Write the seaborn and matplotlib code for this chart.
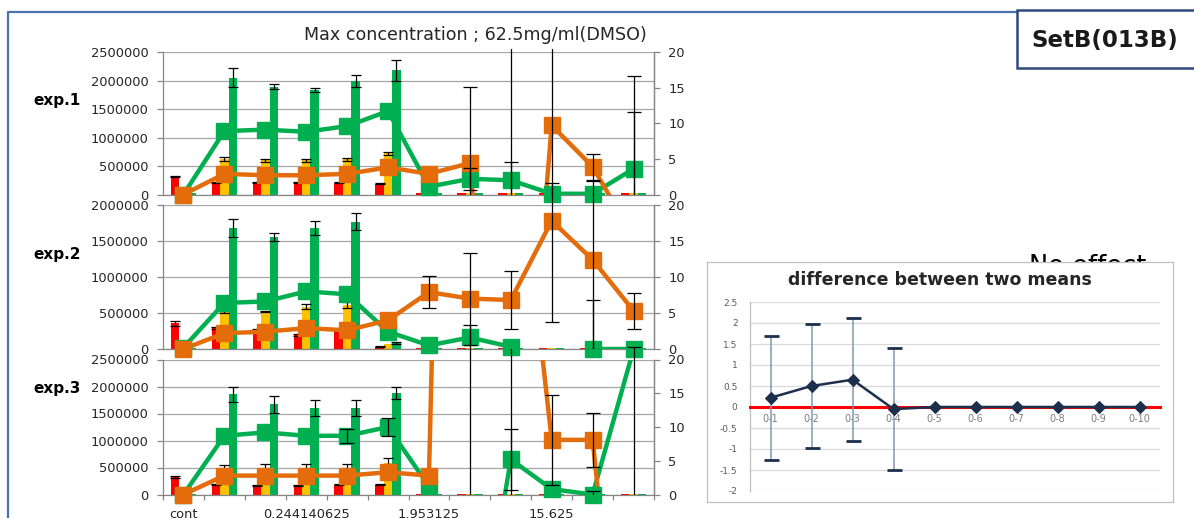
import numpy as np
import pandas as pd
import matplotlib
matplotlib.use("Agg")
import matplotlib.pyplot as plt
import seaborn as sns
from matplotlib.patches import Rectangle
from matplotlib.lines import Line2D
from matplotlib.ticker import FuncFormatter
from matplotlib.transforms import Bbox, TransformedBbox

nan = np.nan

# two-fold dilution series (mg/ml) from the 62.5 mg/ml maximum
conc = ["cont", "0.06103515625", "0.1220703125", "0.244140625", "0.48828125",
        "0.9765625", "1.953125", "3.90625", "7.8125", "15.625", "31.25", "62.5"]
tick_idx = [0, 3, 6, 9]
tick_text = ["cont", "0.244140625", "1.953125", "15.625"]

# ---- exp.1 ----
exp1_red = [320000, 210000, 205000, 205000, 205000, 185000, 20000, 20000, 20000, 20000, 20000, 20000]
exp1_red_err = [8000, 8000, 8000, 8000, 8000, 8000, nan, nan, nan, nan, nan, nan]
exp1_yellow = [20000, 630000, 600000, 600000, 620000, 720000, 20000, 20000, 20000, 20000, 20000, 20000]
exp1_yellow_err = [nan, 35000, 30000, 25000, 25000, 30000, nan, nan, nan, nan, nan, nan]
exp1_green = [20000, 2050000, 1890000, 1830000, 1990000, 2180000, 20000, 20000, 20000, 20000, 20000, 20000]
exp1_green_err = [nan, 170000, 45000, 30000, 110000, 180000, nan, nan, nan, nan, nan, nan]
exp1_gline = [0.0, 8.9, 9.1, 8.8, 9.6, 11.7, 1.1, 2.2, 2.0, 0.1, 0.1, 3.6]
exp1_gline_err = [nan, nan, nan, nan, nan, nan, nan, 1.5, 2.6, 1.5, 1.8, 8.0]
exp1_oline = [0.0, 2.9, 2.7, 2.7, 2.9, 3.8, 2.9, 4.4, -60.0, 9.7, 3.9, -6.0]
exp1_oline_err = [nan, nan, nan, nan, nan, nan, nan, 10.7, 90.0, 30.0, 1.8, 22.7]

# ---- exp.2 ----
exp2_red = [356000, 290000, 264000, 194000, 264000, 32000, 15000, 15000, 15000, 15000, 15000, 15000]
exp2_red_err = [33000, 10000, 8000, 8000, 8000, 5000, nan, nan, nan, nan, nan, nan]
exp2_yellow = [15000, 514000, 518000, 588000, 611000, 70000, 15000, 15000, 15000, 15000, 15000, 15000]
exp2_yellow_err = [nan, 20000, 10000, 35000, 35000, nan, nan, nan, nan, nan, nan, nan]
exp2_green = [15000, 1676000, 1560000, 1676000, 1769000, 83000, 15000, 15000, 15000, 15000, 15000, 15000]
exp2_green_err = [nan, 123000, 56000, 97000, 116000, 20000, nan, nan, nan, nan, nan, nan]
exp2_gline = [0.2, 6.4, 6.6, 8.0, 7.6, 2.4, 0.5, 1.6, 0.3, nan, 0.0, 0.0]
exp2_gline_err = [nan, nan, nan, nan, nan, nan, nan, 1.8, nan, nan, 6.8, 0.3]
exp2_oline = [0.0, 2.2, 2.4, 2.9, 2.6, 4.0, 7.9, 7.0, 6.8, 17.8, 12.4, 5.3]
exp2_oline_err = [nan, nan, nan, nan, nan, nan, 2.2, 6.4, 4.0, 14.0, 12.5, 2.5]

# ---- exp.3 ----
exp3_red = [328000, 190000, 173000, 173000, 185000, 185000, 15000, 15000, 15000, 15000, 15000, 15000]
exp3_red_err = [20000, 10000, 10000, 10000, 15000, 10000, nan, nan, nan, nan, nan, nan]
exp3_yellow = [15000, 480000, 494000, 494000, 494000, 586000, 15000, 15000, 15000, 15000, 15000, 15000]
exp3_yellow_err = [nan, 70000, 70000, 70000, 70000, 90000, nan, nan, nan, nan, nan, nan]
exp3_green = [15000, 1852000, 1667000, 1605000, 1605000, 1883000, 15000, 15000, 15000, 15000, 15000, 15000]
exp3_green_err = [nan, 142000, 154000, 154000, 154000, 111000, nan, nan, nan, nan, nan, nan]
exp3_gline = [0.0, 8.7, 9.2, 8.7, 8.7, 10.0, 1.2, -31.0, 5.2, 0.8, 0.0, 21.5]
exp3_gline_err = [nan, nan, nan, nan, 1.05, 1.3, nan, 20.0, 4.5, nan, 0.5, nan]
exp3_oline = [0.0, 2.8, 2.8, 2.8, 2.8, 3.3, 2.8, 250.0, 62.0, 8.1, 8.1, -50.0]
exp3_oline_err = [nan, nan, nan, nan, nan, nan, nan, 300.0, 70.0, 6.7, 4.0, 80.0]

# ---- difference between two means ----
diff_labels = ["0-1", "0-2", "0-3", "0-4", "0-5", "0-6", "0-7", "0-8", "0-9", "0-10"]
diff_mean = [0.22, 0.50, 0.65, -0.05, 0.0, 0.0, 0.0, 0.0, 0.0, 0.0]
diff_err = [1.47, 1.47, 1.46, 1.46, nan, nan, nan, nan, nan, nan]

bar_series = ["a", "b", "c"]
bar_colors = ["#FF0000", "#FFC000", "#00B050"]
line_colors = ["#00B050", "#E46C0A"]
grid_c = "#a6a6a6"
spine_c = "#868686"
text_c = "#262626"

sns.set_theme(style="white")
plt.rcParams["font.family"] = ["DejaVu Sans"]

W, H = 1194, 518
fig = plt.figure(figsize=(W / 100, H / 100), dpi=100)
fig.patch.set_facecolor("white")


def px_box(x0, y0, x1, y1):
    return [x0 / W, 1 - y1 / H, (x1 - x0) / W, (y1 - y0) / H]


def draw_panel(box, bars, bar_errs, lines, line_errs, left_max, clip_top, show_x):
    ax = fig.add_axes(px_box(*box))
    n = len(conc)
    df = pd.DataFrame({
        "idx": np.tile(np.arange(n), 3),
        "series": np.repeat(bar_series, n),
        "value": np.concatenate([np.asarray(b, float) for b in bars]),
    })
    sns.barplot(data=df, x="idx", y="value", hue="series", order=list(range(n)),
                hue_order=bar_series, palette=bar_colors, width=0.62, saturation=1,
                errorbar=None, legend=False, linewidth=0, ax=ax)
    for cont, vals, errs in zip(list(ax.containers)[:3], bars, bar_errs):
        xs = np.array([p.get_x() + p.get_width() / 2 for p in cont])
        v = np.asarray(vals, float)
        e = np.asarray(errs, float)
        m = ~np.isnan(e)
        ax.errorbar(xs[m], v[m], yerr=e[m], fmt="none", ecolor="black",
                    elinewidth=0.9, capsize=3.6, capthick=0.9, zorder=3)

    ax.set_xlim(-0.5, n - 0.5)
    ax.set_ylim(0, left_max)
    ax.set_yticks(np.arange(0, left_max + 1, 500000))
    ax.yaxis.set_major_formatter(FuncFormatter(lambda v, p: f"{int(round(v))}"))
    ax.grid(axis="y", color=grid_c, lw=0.9)
    ax.grid(axis="x", visible=False)
    ax.set_axisbelow(True)
    ax.set_xlabel("")
    ax.set_ylabel("")
    ax.spines["top"].set_visible(False)
    for s in ["left", "bottom", "right"]:
        ax.spines[s].set_color(spine_c)
        ax.spines[s].set_linewidth(0.9)
    ax.tick_params(axis="y", left=True, length=4.3, width=0.9, color=spine_c,
                   labelsize=9.4, labelcolor=text_c, pad=6)
    ax.set_xticks(np.arange(-0.5, n, 1))
    ax.set_xticklabels([])
    if show_x:
        ax.set_xticks(tick_idx, labels=tick_text, minor=True)
        ax.tick_params(axis="x", which="major", bottom=True, length=3.6, width=0.9,
                       color=spine_c)
        ax.tick_params(axis="x", which="minor", bottom=True, length=0,
                       labelsize=9.4, labelcolor=text_c, pad=10)
    else:
        ax.tick_params(axis="x", which="both", bottom=False, length=0)

    ax2 = ax.twinx()
    ax2.set_ylim(0, 20)
    ax2.set_yticks([0, 5, 10, 15, 20])
    ax2.grid(False)
    for s in ["top", "left", "bottom"]:
        ax2.spines[s].set_visible(False)
    ax2.spines["right"].set_color(spine_c)
    ax2.spines["right"].set_linewidth(0.9)
    ax2.tick_params(axis="y", right=True, length=4.3, width=0.9, color=spine_c,
                    labelsize=9.4, labelcolor=text_c, pad=6)
    x = np.arange(n)
    clip = TransformedBbox(Bbox([[0, 0], [1, clip_top]]), ax2.transAxes)
    for vals, errs, col in zip(lines, line_errs, line_colors):
        v = np.asarray(vals, float)
        ax2.plot(x, v, color=col, lw=3.2, zorder=2)
        inside = np.where((v >= -0.6) & (v <= 20.6), v, np.nan)
        ax2.plot(x, inside, ls="none", marker="s", ms=11, color=col,
                 mec=col, clip_on=False, zorder=2.5)
        e = np.asarray(errs, float)
        m = ~np.isnan(e)
        _, caps, bl = ax2.errorbar(x[m], v[m], yerr=e[m], fmt="none", ecolor="black",
                                   elinewidth=0.9, capsize=4.7, capthick=0.9, zorder=3)
        for a in list(caps) + list(bl):
            a.set_clip_box(clip)
    return ax, ax2


draw_panel((163, 52, 654, 194.5),
           [exp1_red, exp1_yellow, exp1_green], [exp1_red_err, exp1_yellow_err, exp1_green_err],
           [exp1_gline, exp1_oline], [exp1_gline_err, exp1_oline_err],
           2500000, 1.021, False)
draw_panel((163, 205, 654, 349),
           [exp2_red, exp2_yellow, exp2_green], [exp2_red_err, exp2_yellow_err, exp2_green_err],
           [exp2_gline, exp2_oline], [exp2_gline_err, exp2_oline_err],
           2000000, 1.073, False)
draw_panel((163, 359.5, 654, 494.5),
           [exp3_red, exp3_yellow, exp3_green], [exp3_red_err, exp3_yellow_err, exp3_green_err],
           [exp3_gline, exp3_oline], [exp3_gline_err, exp3_oline_err],
           2500000, 1.078, True)

# panel names and title
for name, yc in [("exp.1", 101), ("exp.2", 254), ("exp.3", 389)]:
    fig.text(57 / W, 1 - yc / H, name, ha="center", va="center",
             fontsize=11, fontweight="bold", color="black")
fig.text(475 / W, 1 - 35 / H, "Max concentration ; 62.5mg/ml(DMSO)", ha="center",
         va="center", fontsize=12.6, color=text_c)

# outer slide frame
fig.add_artist(Line2D([8 / W, 8 / W, 1017 / W], [0, 1 - 12 / H, 1 - 12 / H],
                      transform=fig.transFigure, color="#4a72b0", lw=1.6, zorder=7))

# set name box
fig.add_artist(Rectangle((1017 / W, 1 - 68 / H), 200 / W, 58 / H, transform=fig.transFigure,
                         fc="white", ec="#2e4a7a", lw=1.8, zorder=8))
fig.text(1105 / W, 1 - 40 / H, "SetB(013B)", ha="center", va="center", fontsize=16.5,
         fontweight="bold", color="#1a1a1a", zorder=9)

# note partly covered by the inset chart
fig.text(1088 / W, 1 - 274 / H, "No effect", ha="center", va="baseline", fontsize=18.5,
         color="black", zorder=1)

# inset: difference between two means
inset_bg = fig.add_axes(px_box(707, 262, 1173, 502), zorder=5)
inset_bg.set_xticks([])
inset_bg.set_yticks([])
inset_bg.set_facecolor("white")
for s in inset_bg.spines.values():
    s.set_color("#bfbfbf")
    s.set_linewidth(0.9)

navy = "#1c2f4d"
ax_d = fig.add_axes(px_box(750, 302, 1160, 491), zorder=6)
ax_d.patch.set_alpha(0)
xd = np.arange(len(diff_labels))
md = np.asarray(diff_mean, float)
ed = np.asarray(diff_err, float)
sns.lineplot(x=xd, y=md, ax=ax_d, color=navy, lw=1.8, marker="D", markersize=6.5,
             markeredgecolor=navy, zorder=4)
mk = ~np.isnan(ed)
_, dcaps, _ = ax_d.errorbar(xd[mk], md[mk], yerr=ed[mk], fmt="none", ecolor="#8497b0",
                            elinewidth=1.1, capsize=5.4, capthick=2, zorder=3)
for c in dcaps:
    c.set_color(navy)
    c.set_markeredgecolor(navy)
    c.set_markerfacecolor(navy)
ax_d.set_xlim(-0.5, len(diff_labels) - 0.5)
ax_d.set_ylim(-2, 2.5)
ax_d.set_yticks(np.arange(-2, 2.51, 0.5))
ax_d.yaxis.set_major_formatter(FuncFormatter(lambda v, p: f"{v:g}"))
ax_d.set_xticks(xd, labels=diff_labels)
ax_d.grid(axis="y", color="#d9d9d9", lw=0.9)
ax_d.grid(axis="x", visible=False)
ax_d.set_axisbelow(True)
ax_d.spines["top"].set_visible(False)
ax_d.spines["right"].set_visible(False)
ax_d.spines["left"].set_color("#bfbfbf")
ax_d.spines["left"].set_linewidth(0.9)
ax_d.spines["bottom"].set_position(("data", 0))
ax_d.spines["bottom"].set_color("#ff0000")
ax_d.spines["bottom"].set_linewidth(2.2)
ax_d.tick_params(axis="x", length=0, labelsize=7, labelcolor="#7f7f7f", pad=5)
ax_d.tick_params(axis="y", length=0, labelsize=6.5, labelcolor="#595959", pad=9)
ax_d.set_xlabel("")
ax_d.set_ylabel("")
fig.text(940 / W, 1 - 280 / H, "difference between two means", ha="center", va="center",
         fontsize=12.5, fontweight="bold", color="#262626", zorder=7)

fig.savefig("out.png", dpi=100, facecolor="white")
